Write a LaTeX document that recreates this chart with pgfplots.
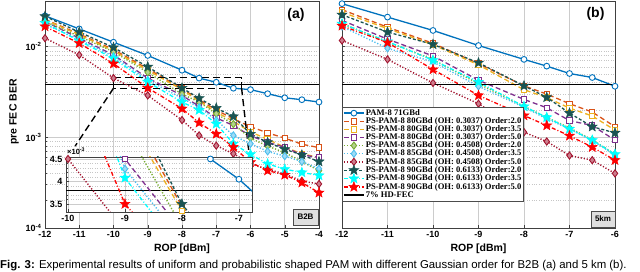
\documentclass[border=0pt]{standalone}
\usepackage{fontspec}
\setmainfont{Liberation Serif}
\setsansfont{Liberation Sans}
\usepackage{pgfplots}
\pgfplotsset{compat=1.18}
\usepackage{pgfplotstable}

\definecolor{cBlue}{rgb}{0,0.447,0.741}
\definecolor{cOrange}{rgb}{0.85,0.325,0.098}
\definecolor{cYellow}{rgb}{0.929,0.694,0.125}
\definecolor{cPurple}{rgb}{0.494,0.184,0.556}
\definecolor{cGreen}{rgb}{0.466,0.674,0.188}
\definecolor{cLblue}{rgb}{0.301,0.745,0.933}
\definecolor{cDred}{rgb}{0.635,0.078,0.184}
\definecolor{cTeal}{rgb}{0.10,0.33,0.32}
\definecolor{cCyan}{rgb}{0,1,1}
\definecolor{cRed}{rgb}{1,0,0}

\pgfdeclareplotmark{fstar}{%
 \pgfpathmoveto{\pgfpointpolar{90}{\pgfplotmarksize}}%
 \pgfpathlineto{\pgfpointpolar{126}{0.42\pgfplotmarksize}}%
 \pgfpathlineto{\pgfpointpolar{162}{\pgfplotmarksize}}%
 \pgfpathlineto{\pgfpointpolar{198}{0.42\pgfplotmarksize}}%
 \pgfpathlineto{\pgfpointpolar{234}{\pgfplotmarksize}}%
 \pgfpathlineto{\pgfpointpolar{270}{0.42\pgfplotmarksize}}%
 \pgfpathlineto{\pgfpointpolar{306}{\pgfplotmarksize}}%
 \pgfpathlineto{\pgfpointpolar{342}{0.42\pgfplotmarksize}}%
 \pgfpathlineto{\pgfpointpolar{18}{\pgfplotmarksize}}%
 \pgfpathlineto{\pgfpointpolar{54}{0.42\pgfplotmarksize}}%
 \pgfpathclose
 \pgfusepathqfillstroke
}

% B2B data
\pgfplotstableread{
x     bl      or      ye      pu      gr      lb      dr      te      cy      re
-12   0.0219  0.0200  0.0198  0.0190  0.0190  0.0177  0.0124  0.0216  0.0182  0.0167
-11   0.0157  0.0138  0.0135  0.0124  0.0130  0.0120  0.0081  0.0145  0.0116  0.0109
-10   0.0112  0.0093  0.0090  0.0081  0.0088  0.0078  0.0045  0.0098  0.0074  0.0065
-9    0.0080  0.0057  0.0055  0.0045  0.0052  0.00428 0.0029  0.0060  0.00408 0.0035
-8    0.0055  0.00345 0.00335 0.0029  0.0030  0.0027  0.00155 0.0035  0.00245 0.00207
-7.5  0.0045  0.0026  0.0025  0.0022  0.00245 0.00215 0.00105 0.0027  0.0020  0.00145
-7    0.00405 0.0020  0.0019  0.00164 0.00182 0.00155 0.00081 0.0021  0.00141 0.00109
-6.5  0.00348 0.0016  0.0015  0.00135 0.0014  0.00105 0.00066 0.0017  0.00085 0.00078
-6    0.00336 0.00131 0.00115 0.00104 0.00098 0.00085 0.00051 0.00109 0.00065 0.00053
-5.5  0.00303 0.00112 0.00095 0.00088 0.0008  0.0007  0.000445 0.00088 0.00051 0.00043
-5    0.00273 0.00098 0.00078 0.00078 0.00068 0.00062 0.000395 0.00074 0.000445 0.000385
-4.5  0.0026  0.00084 0.00066 0.00064 0.00054 0.00054 0.00033 0.00064 0.00041 0.000317
-4    0.00245 0.00077 0.0006  0.0006  0.00043 0.00045 0.000306 0.00054 0.00038 0.000245
}\leftdata

% 5 km data
\pgfplotstableread{
x     bl      or      ye      pu      gr      lb      dr      te      cy      re
-12   0.0298  0.0256  0.0240  0.0195  0.0180  0.0167  0.0117  0.0225  0.0179  0.0170
-11   0.0212  0.0164  0.0158  0.0121  0.0113  0.0096  0.00724 0.0145  0.0114  0.0111
-10   0.0151  0.0109  0.0105  0.0079  0.0072  0.0068  0.00398 0.0106  0.0071  0.0056
-9    0.0103  0.0065  0.0063  0.00427 0.0039  0.00366 0.00235 0.00664 0.00408 0.0029
-8    0.00724 0.0037  0.00335 0.00262 0.0022  0.00215 0.00114 0.0037  0.00219 0.00174
-7.5  0.0061  0.0030  0.00275 0.00212 0.00166 0.0016  0.0009  0.00276 0.00166 0.00135
-7    0.00506 0.00235 0.0021  0.00153 0.00127 0.00124 0.00063 0.00185 0.00124 0.00104
-6.5  0.00457 0.0019  0.00172 0.00135 0.00094 0.00092 0.00056 0.00131 0.00093 0.00078
-6    0.00366 0.00131 0.0012  0.00093 0.00065 0.00064 0.0004  0.00112 0.00065 0.00056
}\rightdata

\pgfplotsset{
 sBlue/.style={color=cBlue, solid, line width=1.3pt, mark=*, mark size=2.9pt, mark options={solid, fill=white, line width=0.9pt}},
 sq/.style={color=#1, line width=1.3pt, dash pattern=on 5pt off 3pt, mark=square*, mark size=2.7pt, mark options={solid, fill=white, line width=0.9pt}},
 dm/.style={color=#1, line width=1.4pt, dash pattern=on 1.2pt off 1.8pt, mark=diamond*, mark size=3.6pt, mark options={solid, fill=#1!55, line width=0.9pt}},
 stTeal/.style={color=cTeal, line width=1.3pt, dash pattern=on 3pt off 2pt, mark=fstar, mark size=5.2pt, mark options={solid, fill=cTeal, line width=0.5pt}},
 stDD/.style={color=#1, line width=1.3pt, dash pattern=on 4pt off 2pt on 1pt off 2pt, mark=fstar, mark size=5.2pt, mark options={solid, fill=#1, line width=0.5pt}},
 hdfec/.style={black, solid, line width=1.2pt},
}

\begin{document}
\begin{tikzpicture}[x=1pt,y=1pt]
\useasboundingbox (0,0) rectangle (640,272);
\clip (0,0) rectangle (640,272);

% ---------------- left (a) ----------------
\begin{axis}[scale only axis, ymode=log, ymin=1e-4, ymax=0.0319,
   xmajorgrids, ymajorgrids, yminorgrids,
   major grid style={gray!40, line width=0.6pt},
   minor grid style={gray!45, dotted, line width=0.5pt},
   axis line style={gray!50!black, line width=0.6pt},
   tick align=inside, tick style={gray!50!black, line width=0.5pt},
   major tick length=3pt, minor tick length=1.5pt,
   ticklabel style={font=\sffamily\bfseries\fontsize{9}{10}\selectfont},
   ytick={1e-4,1e-3,1e-2},
   xtick pos=bottom, ytick pos=left,
  at={(45pt,44pt)}, anchor=south west, width=274pt, height=227pt,
  xmin=-12, xmax=-4, xtick={-12,-11,...,-4}, xticklabels={-12,-11,-10,-9,-8,-7,-6,-5,-4},
  yticklabels={10\textsuperscript{-4},10\textsuperscript{-3},10\textsuperscript{-2}}]
\addplot[hdfec] coordinates {(-12,0.0038) (-4,0.0038)};
\addplot[sBlue] table[x=x,y=bl] {\leftdata};
\addplot[sq=cOrange] table[x=x,y=or] {\leftdata};
\addplot[sq=cYellow] table[x=x,y=ye] {\leftdata};
\addplot[sq=cPurple] table[x=x,y=pu] {\leftdata};
\addplot[dm=cGreen] table[x=x,y=gr] {\leftdata};
\addplot[dm=cLblue] table[x=x,y=lb] {\leftdata};
\addplot[dm=cDred] table[x=x,y=dr] {\leftdata};
\addplot[stTeal] table[x=x,y=te] {\leftdata};
\addplot[stDD=cCyan] table[x=x,y=cy] {\leftdata};
\addplot[stDD=cRed] table[x=x,y=re] {\leftdata};
\draw[black, line width=1.4pt, dash pattern=on 7pt off 4pt] (axis cs:-10,0.00348) rectangle (axis cs:-6.26,0.00455);
\draw[black, line width=1.4pt, dash pattern=on 7pt off 4pt] (axis cs:-10,0.00348) -- (axis cs:-11.12,0.0008);
\draw[black, line width=1.4pt, dash pattern=on 7pt off 4pt] (axis cs:-6.26,0.00348) -- (axis cs:-6.03,0.00061);
\end{axis}

% ---------------- inset ----------------
\begin{axis}[at={(66pt,60pt)}, anchor=south west, scale only axis, width=186pt, height=55pt,
  xmin=-10.035, xmax=-6.77, ymin=0.003322, ymax=0.004544,
  axis background/.style={fill=white},
  xtick={-10,-9,-8,-7}, xticklabels={-10,-9,-8,-7},
  ytick={0.0035,0.004,0.0045}, yticklabels={3.5,4,4.5},
  minor y tick num=4, scaled y ticks=false,
  xmajorgrids, ymajorgrids, yminorgrids,
  major grid style={gray!40, line width=0.6pt},
  minor grid style={gray!45, dotted, line width=0.5pt},
  axis line style={gray!50!black, line width=0.6pt},
  tick align=inside, tick style={gray!50!black, line width=0.5pt},
  major tick length=3pt, minor tick length=1.5pt,
  ticklabel style={font=\sffamily\bfseries\fontsize{9}{10}\selectfont},
  xtick pos=bottom, ytick pos=left]
\addplot[hdfec] coordinates {(-12,0.0038) (-4,0.0038)};
\addplot[sBlue, no marks] table[x=x,y=bl] {\leftdata};
\addplot[sq=cOrange, no marks] table[x=x,y=or] {\leftdata};
\addplot[sq=cYellow, no marks] table[x=x,y=ye] {\leftdata};
\addplot[sq=cPurple, no marks] table[x=x,y=pu] {\leftdata};
\addplot[dm=cGreen, no marks] table[x=x,y=gr] {\leftdata};
\addplot[dm=cLblue, no marks] table[x=x,y=lb] {\leftdata};
\addplot[dm=cDred, no marks] table[x=x,y=dr] {\leftdata};
\addplot[stTeal, no marks] table[x=x,y=te] {\leftdata};
\addplot[stDD=cCyan, no marks] table[x=x,y=cy] {\leftdata};
\addplot[stDD=cRed, no marks] table[x=x,y=re] {\leftdata};
\addplot[sBlue, only marks, restrict x to domain=-10.05:-6.7, restrict y to domain=0.0033:0.00456] table[x=x,y=bl] {\leftdata};
\addplot[sq=cOrange, only marks, restrict x to domain=-10.05:-6.7, restrict y to domain=0.0033:0.00456] table[x=x,y=or] {\leftdata};
\addplot[sq=cYellow, only marks, restrict x to domain=-10.05:-6.7, restrict y to domain=0.0033:0.00456] table[x=x,y=ye] {\leftdata};
\addplot[sq=cPurple, only marks, restrict x to domain=-10.05:-6.7, restrict y to domain=0.0033:0.00456] table[x=x,y=pu] {\leftdata};
\addplot[dm=cGreen, only marks, restrict x to domain=-10.05:-6.7, restrict y to domain=0.0033:0.00456] table[x=x,y=gr] {\leftdata};
\addplot[dm=cLblue, only marks, restrict x to domain=-10.05:-6.7, restrict y to domain=0.0033:0.00456] table[x=x,y=lb] {\leftdata};
\addplot[dm=cDred, only marks, restrict x to domain=-10.05:-6.7, restrict y to domain=0.0033:0.00456] table[x=x,y=dr] {\leftdata};
\addplot[stTeal, only marks, restrict x to domain=-10.05:-6.7, restrict y to domain=0.0033:0.00456] table[x=x,y=te] {\leftdata};
\addplot[stDD=cCyan, only marks, restrict x to domain=-10.05:-6.7, restrict y to domain=0.0033:0.00456] table[x=x,y=cy] {\leftdata};
\addplot[stDD=cRed, only marks, restrict x to domain=-10.05:-6.7, restrict y to domain=0.0033:0.00456] table[x=x,y=re] {\leftdata};
\end{axis}
\node[anchor=west, inner sep=0, font=\sffamily\bfseries\fontsize{7.5}{8}\selectfont] at (67,121) {×10\textsuperscript{-3}};

% ---------------- right (b) ----------------
\begin{axis}[scale only axis, ymode=log, ymin=1e-4, ymax=0.0319,
   xmajorgrids, ymajorgrids, yminorgrids,
   major grid style={gray!40, line width=0.6pt},
   minor grid style={gray!45, dotted, line width=0.5pt},
   axis line style={gray!50!black, line width=0.6pt},
   tick align=inside, tick style={gray!50!black, line width=0.5pt},
   major tick length=3pt, minor tick length=1.5pt,
   ticklabel style={font=\sffamily\bfseries\fontsize{9}{10}\selectfont},
   ytick={1e-4,1e-3,1e-2},
   xtick pos=bottom, ytick pos=left,
  at={(342pt,44pt)}, anchor=south west, width=273pt, height=227pt,
  xmin=-12, xmax=-6, xtick={-12,-11,...,-6}, xticklabels={-12,-11,-10,-9,-8,-7,-6},
  yticklabels={},
  legend image code/.code={\draw[mark repeat=2,mark phase=2,#1] plot coordinates {(0pt,0pt) (10pt,0pt) (20pt,0pt)};},
  legend style={at={(0.0,0.533)}, anchor=north west, draw=gray!60!black, fill=white,
    font=\rmfamily\bfseries\fontsize{8.6}{9.5}\selectfont, inner sep=1pt, row sep=-1.75pt,
    nodes={inner sep=1.2pt}},
  legend cell align=left]
\addplot[sBlue] table[x=x,y=bl] {\rightdata};
\addplot[sq=cOrange] table[x=x,y=or] {\rightdata};
\addplot[sq=cYellow] table[x=x,y=ye] {\rightdata};
\addplot[sq=cPurple] table[x=x,y=pu] {\rightdata};
\addplot[dm=cGreen] table[x=x,y=gr] {\rightdata};
\addplot[dm=cLblue] table[x=x,y=lb] {\rightdata};
\addplot[dm=cDred] table[x=x,y=dr] {\rightdata};
\addplot[stTeal] table[x=x,y=te] {\rightdata};
\addplot[stDD=cCyan] table[x=x,y=cy] {\rightdata};
\addplot[stDD=cRed] table[x=x,y=re] {\rightdata};
\addplot[hdfec] coordinates {(-12,0.0038) (-6,0.0038)};
\legend{PAM-8 71GBd,
PS-PAM-8 80GBd (OH: 0.3037) Order:2.0,
PS-PAM-8 80GBd (OH: 0.3037) Order:3.5,
PS-PAM-8 80GBd (OH: 0.3037) Order:5.0,
PS-PAM-8 85GBd (OH: 0.4508) Order:2.0,
PS-PAM-8 85GBd (OH: 0.4508) Order:3.5,
PS-PAM-8 85GBd (OH: 0.4508) Order:5.0,
PS-PAM-8 90GBd (OH: 0.6133) Order:2.0,
PS-PAM-8 90GBd (OH: 0.6133) Order:3.5,
PS-PAM-8 90GBd (OH: 0.6133) Order:5.0,
7\% HD-FEC}
\end{axis}

% ---------------- annotations ----------------
\node[font=\sffamily\bfseries\fontsize{14}{16}\selectfont, inner sep=0] at (296,257) {(a)};
\node[font=\sffamily\bfseries\fontsize{14}{16}\selectfont, inner sep=0] at (595.5,258) {(b)};
\node[draw=gray!60!black, fill=gray!25, font=\sffamily\bfseries\fontsize{8}{9}\selectfont, minimum width=25pt, minimum height=16pt, inner sep=0] at (305.5,55) {B2B};
\node[draw=gray!60!black, fill=gray!25, font=\sffamily\bfseries\fontsize{8}{9}\selectfont, minimum width=24pt, minimum height=16pt, inner sep=0] at (603,53) {5km};
\node[rotate=90, font=\sffamily\bfseries\fontsize{10.5}{12}\selectfont, inner sep=0] at (14,160) {pre FEC BER};
\node[font=\sffamily\bfseries\fontsize{10.5}{12}\selectfont, inner sep=0] at (182,23) {ROP [dBm]};
\node[font=\sffamily\bfseries\fontsize{10.5}{12}\selectfont, inner sep=0] at (478.5,23) {ROP [dBm]};
\node[anchor=base west, inner sep=0, font=\sffamily\fontsize{11.4}{13}\selectfont] at (0,3.2) {\textbf{Fig. 3:} Experimental results of uniform and probabilistic shaped PAM with different Gaussian order for B2B (a) and 5 km (b).};
\end{tikzpicture}
\end{document}
